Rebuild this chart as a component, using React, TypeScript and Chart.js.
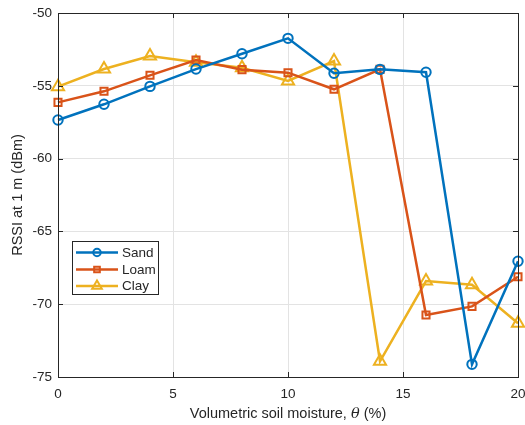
import React, { useEffect, useRef } from "react";
import { Chart, registerables } from "chart.js";

Chart.register(...registerables);

const moisture = [0, 2, 4, 6, 8, 10, 12, 14, 16, 18, 20];
const sand = [-57.35, -56.27, -55.04, -53.85, -52.8, -51.74, -54.14, -53.87, -54.07, -74.13, -67.05];
const loam = [-56.14, -55.38, -54.28, -53.23, -53.89, -54.1, -55.24, -53.87, -70.74, -70.15, -68.11];
const clay = [-55.06, -53.85, -52.95, -53.39, -53.76, -54.67, -53.3, -73.92, -68.41, -68.66, -71.31];
const seriesNames = ["Sand", "Loam", "Clay"];
const seriesColors = ["#0072BD", "#D95319", "#EDB120"];
const seriesMarkers = ["circle", "rect", "triangle"];
const seriesRadius = [4.7, 5, 7];
const xLabel = ["Volumetric soil moisture, ", "θ", " (%)"];
const yLabel = "RSSI at 1 m (dBm)";

const FONT = "'Liberation Sans', Arial, Helvetica, sans-serif";
const AX = "#262626";

function drawMarker(ctx: CanvasRenderingContext2D, style: string, x: number, y: number, r: number) {
  ctx.beginPath();
  if (style === "circle") {
    ctx.arc(x, y, r, 0, Math.PI * 2);
  } else if (style === "rect") {
    const s = Math.SQRT1_2 * r;
    ctx.rect(x - s, y - s, 2 * s, 2 * s);
  } else {
    const a = -Math.PI / 2;
    for (let k = 0; k < 3; k++) {
      const ang = a + (k * 2 * Math.PI) / 3;
      const px = x + Math.cos(ang) * r;
      const py = y + Math.sin(ang) * r;
      if (k === 0) ctx.moveTo(px, py);
      else ctx.lineTo(px, py);
    }
    ctx.closePath();
  }
  ctx.lineWidth = 2;
  ctx.stroke();
}

const decorPlugin = {
  id: "decor",
  afterDraw(chart: any) {
    const { ctx, chartArea } = chart;
    const { left, right, top, bottom } = chartArea;
    const xs = chart.scales.x;
    const ys = chart.scales.y;
    ctx.save();
    ctx.strokeStyle = AX;
    ctx.lineWidth = 1;
    ctx.strokeRect(Math.round(left) + 0.5, Math.round(top) + 0.5, Math.round(right - left), Math.round(bottom - top));
    const tl = 5;
    ctx.beginPath();
    xs.ticks.forEach((t: any) => {
      const px = Math.round(xs.getPixelForValue(t.value)) + 0.5;
      ctx.moveTo(px, bottom);
      ctx.lineTo(px, bottom - tl);
      ctx.moveTo(px, top);
      ctx.lineTo(px, top + tl);
    });
    ys.ticks.forEach((t: any) => {
      const py = Math.round(ys.getPixelForValue(t.value)) + 0.5;
      ctx.moveTo(left, py);
      ctx.lineTo(left + tl, py);
      ctx.moveTo(right, py);
      ctx.lineTo(right - tl, py);
    });
    ctx.stroke();

    ctx.fillStyle = AX;
    ctx.textBaseline = "middle";
    const fs = 14.5;
    const normal = `${fs}px ${FONT}`;
    const ital = `italic ${fs}px 'DejaVu Serif', 'Liberation Serif', serif`;
    ctx.font = normal;
    const w0 = ctx.measureText(xLabel[0]).width;
    const w2 = ctx.measureText(xLabel[2]).width;
    ctx.font = ital;
    const w1 = ctx.measureText(xLabel[1]).width;
    const total = w0 + w1 + w2;
    let cx = (left + right) / 2 - total / 2;
    const ty = 414;
    ctx.textAlign = "left";
    ctx.font = normal;
    ctx.fillText(xLabel[0], cx, ty);
    cx += w0;
    ctx.font = ital;
    ctx.fillText(xLabel[1], cx, ty);
    cx += w1;
    ctx.font = normal;
    ctx.fillText(xLabel[2], cx, ty);

    ctx.save();
    ctx.translate(18, (top + bottom) / 2);
    ctx.rotate(-Math.PI / 2);
    ctx.textAlign = "center";
    ctx.font = normal;
    ctx.fillText(yLabel, 0, 0);
    ctx.restore();

    const lx = 72, ly = 241, lw = 86, lh = 53;
    ctx.fillStyle = "#ffffff";
    ctx.fillRect(lx, ly, lw, lh);
    ctx.strokeStyle = "#262626";
    ctx.lineWidth = 1;
    ctx.strokeRect(lx + 0.5, ly + 0.5, lw, lh);
    const rows = [252.5, 269.5, 286];
    seriesNames.forEach((name, i) => {
      const y = rows[i];
      ctx.strokeStyle = seriesColors[i];
      ctx.lineWidth = 2.5;
      ctx.beginPath();
      ctx.moveTo(76, y);
      ctx.lineTo(118, y);
      ctx.stroke();
      ctx.strokeStyle = seriesColors[i];
      drawMarker(ctx, seriesMarkers[i], 97, y, seriesRadius[i] * 0.8);
      ctx.fillStyle = AX;
      ctx.font = `13.5px ${FONT}`;
      ctx.textAlign = "left";
      ctx.textBaseline = "middle";
      ctx.fillText(name, 122, y + 0.5);
    });
    ctx.restore();
  },
};

export default function App() {
  const ref = useRef<HTMLCanvasElement | null>(null);
  useEffect(() => {
    document.body.style.margin = "0";
    document.body.style.overflow = "hidden";
    const canvas = ref.current;
    if (!canvas) return;
    const values = [sand, loam, clay];
    const chart = new Chart(canvas, {
      type: "line",
      data: {
        datasets: seriesNames.map((name, i) => ({
          label: name,
          data: moisture.map((x, j) => ({ x, y: values[i][j] })),
          borderColor: seriesColors[i],
          backgroundColor: "rgba(0,0,0,0)",
          borderWidth: 2.5,
          pointStyle: seriesMarkers[i] as any,
          pointRadius: seriesRadius[i],
          pointBorderWidth: 2,
          pointBorderColor: seriesColors[i],
          pointBackgroundColor: "rgba(0,0,0,0)",
          tension: 0,
          fill: false,
          clip: 8,
        })),
      },
      options: {
        animation: false,
        responsive: false,
        devicePixelRatio: 1,
        layout: { padding: { left: 0, top: 13, right: 5, bottom: 0 } },
        plugins: { legend: { display: false }, tooltip: { enabled: false } },
        scales: {
          x: {
            type: "linear",
            min: 0,
            max: 20,
            ticks: {
              stepSize: 5,
              color: AX,
              font: { family: FONT, size: 13.5 },
              padding: 9,
              maxRotation: 0,
            },
            grid: { color: "#e3e3e3", drawTicks: false, lineWidth: 1 },
            border: { display: false },
            afterFit: (s: any) => {
              s.height = 48;
              s.paddingLeft = 0;
              s.paddingRight = 0;
            },
          },
          y: {
            type: "linear",
            min: -75,
            max: -50,
            ticks: {
              stepSize: 5,
              color: AX,
              font: { family: FONT, size: 13.5 },
              padding: 6,
            },
            grid: { color: "#e3e3e3", drawTicks: false, lineWidth: 1 },
            border: { display: false },
            afterFit: (s: any) => {
              s.width = 58;
              s.paddingTop = 0;
              s.paddingBottom = 0;
            },
          },
        },
      },
      plugins: [decorPlugin],
    });
    return () => chart.destroy();
  }, []);
  return <canvas ref={ref} width={527} height={425} style={{ display: "block" }} />;
}
